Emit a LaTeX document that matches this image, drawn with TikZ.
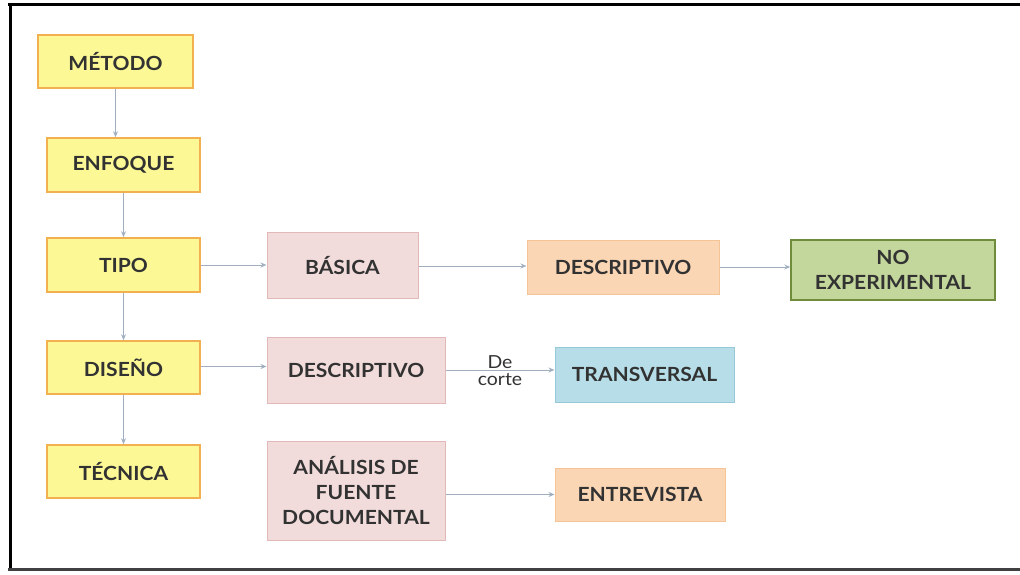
\documentclass[tikz,border=0pt]{standalone}
\usepackage{fontspec}
\setmainfont{Lato}[FakeStretch=1.08]
\usepackage{xcolor}
\usepackage{tikz}
\usetikzlibrary{arrows.meta, positioning, calc}
\definecolor{boxyellow}{RGB}{252, 248, 150}
\definecolor{lineyellow}{RGB}{243, 176, 80}
\definecolor{boxpink}{RGB}{242, 220, 219}
\definecolor{linepink}{RGB}{226, 185, 184}
\definecolor{boxpeach}{RGB}{250, 214, 180}
\definecolor{linepeach}{RGB}{245, 196, 150}
\definecolor{boxgreen}{RGB}{195, 214, 155}
\definecolor{linegreen}{RGB}{110, 140, 60}
\definecolor{boxblue}{RGB}{183, 222, 232}
\definecolor{lineblue}{RGB}{150, 200, 215}
\definecolor{arrowgray}{RGB}{160, 174, 192}
\definecolor{textgray}{RGB}{50, 50, 50}

\begin{document}
\begin{tikzpicture}[x=1pt, y=-1pt,
    every node/.style={font=\fontsize{19.5}{25}\selectfont\bfseries, text=textgray, align=center},
    yellowbox/.style={draw=lineyellow, fill=boxyellow, line width=1.6pt},
    pinkbox/.style={draw=linepink, fill=boxpink, line width=1pt},
    peachbox/.style={draw=linepeach, fill=boxpeach, line width=1pt},
    greenbox/.style={draw=linegreen, fill=boxgreen, line width=1.4pt},
    bluebox/.style={draw=lineblue, fill=boxblue, line width=1pt},
    link/.style={draw=arrowgray, line width=0.9pt, -{Stealth[length=6pt, width=5pt, open]}}
]
    \useasboundingbox (0,0) rectangle (1020,574);

    % Frame
    \draw[black, line width=3pt] (8,4) -- (1020,4);
    \draw[black, line width=3pt] (10,4) -- (10,570);
    \draw[black!75, line width=3pt] (8,569) -- (1020,569);

    % Left column
    \node[yellowbox, minimum width=155pt, minimum height=53pt] (metodo) at (115.5,61.5) {MÉTODO};
    \node[yellowbox, minimum width=153pt, minimum height=54pt] (enfoque) at (123.5,165) {ENFOQUE};
    \node[yellowbox, minimum width=153pt, minimum height=54pt] (tipo) at (123.5,265) {TIPO};
    \node[yellowbox, minimum width=153pt, minimum height=53pt] (diseno) at (123.5,367.5) {DISEÑO};
    \node[yellowbox, minimum width=153pt, minimum height=53pt] (tecnica) at (123.5,471.5) {TÉCNICA};

    % Row of TIPO
    \node[pinkbox, minimum width=151pt, minimum height=66pt] (basica) at (342.5,265) {BÁSICA};
    \node[peachbox, minimum width=192pt, minimum height=54pt] (descA) at (623,267) {DESCRIPTIVO};
    \node[greenbox, minimum width=204pt, minimum height=60pt] (noexp) at (893,270) {NO\\EXPERIMENTAL};

    % Row of DISEÑO
    \node[pinkbox, minimum width=178pt, minimum height=66pt] (descB) at (356,370) {DESCRIPTIVO};
    \node[bluebox, minimum width=179pt, minimum height=55pt] (transv) at (644.5,374.5) {TRANSVERSAL};

    % Row of TÉCNICA
    \node[pinkbox, minimum width=178pt, minimum height=99pt] (analisis) at (356,490.5) {ANÁLISIS DE\\FUENTE\\DOCUMENTAL};
    \node[peachbox, minimum width=170pt, minimum height=53pt] (entrev) at (640,494.5) {ENTREVISTA};

    % Vertical arrows
    \draw[link] (metodo.south) -- (metodo.south |- enfoque.north);
    \draw[link] (enfoque) -- (tipo);
    \draw[link] (tipo) -- (diseno);
    \draw[link] (diseno) -- (tecnica);

    % Horizontal arrows
    \draw[link] (tipo.east) -- (tipo.east -| basica.west);
    \draw[link] ($(basica.east)+(0,1)$) -- ($(basica.east -| descA.west)+(0,1)$);
    \draw[link] (descA.east) -- (descA.east -| noexp.west);
    \draw[link] ($(diseno.east)+(0,-1)$) -- ($(diseno.east -| descB.west)+(0,-1)$);
    \draw[link] (descB.east) -- (descB.east -| transv.west)
        node[midway, above=-2pt, font=\fontsize{18}{20}\selectfont] (decorte) {De}
        node[midway, below=0pt, font=\fontsize{18}{20}\selectfont] (corte) {corte};
    \draw[link] ($(analisis.east)+(0,4)$) -- ($(analisis.east -| entrev.west)+(0,4)$);
\end{tikzpicture}
\end{document}
